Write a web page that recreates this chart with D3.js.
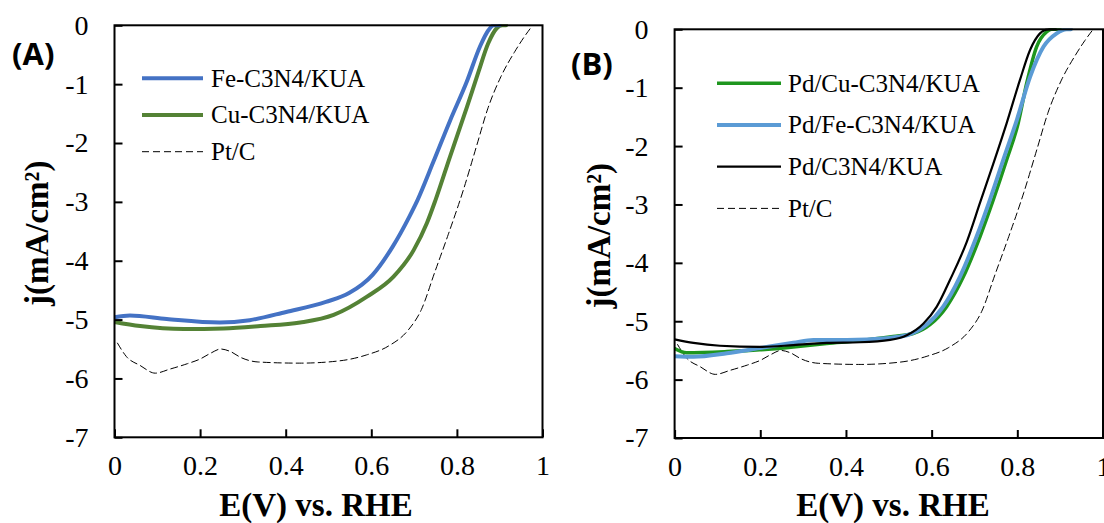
<!DOCTYPE html>
<html>
<head>
<meta charset="utf-8">
<script src="https://cdn.jsdelivr.net/npm/d3@7"></script>
<style>
  body { margin: 0; background: #fff; }
  svg { display: block; }
  .serif { font-family: "Liberation Serif", "Times New Roman", Times, "DejaVu Serif", serif; }
  .panel-label { font-family: "Open Sans", "Liberation Sans", Arial, sans-serif; font-weight: 700; }
</style>
</head>
<body>
<svg id="chart" width="1104" height="523"></svg>
<script>
// ORR polarization curves, j (mA/cm²) against E (V vs. RHE): [E, j] pairs
const xTicks = [0, 0.2, 0.4, 0.6, 0.8, 1];
const xTickLabels = ["0", "0.2", "0.4", "0.6", "0.8", "1"];
const yTicks = [0, -1, -2, -3, -4, -5, -6, -7];
const yTickLabels = ["0", "-1", "-2", "-3", "-4", "-5", "-6", "-7"];

const ptC = [[0.007,-5.40],[0.028,-5.63],[0.06,-5.78],[0.095,-5.91],[0.13,-5.84],[0.17,-5.75],
  [0.20,-5.67],[0.225,-5.57],[0.248,-5.50],[0.27,-5.54],[0.297,-5.65],[0.335,-5.72],[0.433,-5.74],
  [0.527,-5.70],[0.589,-5.60],[0.64,-5.45],[0.686,-5.18],[0.717,-4.83],[0.748,-4.20],[0.78,-3.55],
  [0.815,-2.80],[0.846,-2.05],[0.872,-1.42],[0.903,-0.87],[0.935,-0.45],[0.957,-0.20],[0.975,-0.02]];

const feC3N4 = [[0,-4.96],[0.036,-4.93],[0.122,-4.99],[0.246,-5.05],[0.316,-5.01],[0.401,-4.87],
  [0.494,-4.70],[0.548,-4.55],[0.603,-4.24],[0.65,-3.76],[0.689,-3.25],[0.708,-2.97],[0.745,-2.32],
  [0.784,-1.62],[0.823,-0.96],[0.854,-0.36],[0.874,-0.08],[0.886,0],[0.9,0]];

const cuC3N4 = [[0,-5.04],[0.06,-5.11],[0.162,-5.16],[0.255,-5.15],[0.341,-5.11],[0.434,-5.05],
  [0.512,-4.92],[0.59,-4.61],[0.652,-4.27],[0.699,-3.82],[0.73,-3.36],[0.75,-2.97],[0.784,-2.23],
  [0.823,-1.40],[0.85,-0.80],[0.873,-0.31],[0.893,-0.05],[0.906,0],[0.915,0]];

const pdCuC3N4 = [[0,-5.47],[0.028,-5.54],[0.122,-5.52],[0.199,-5.49],[0.277,-5.44],[0.355,-5.38],
  [0.433,-5.33],[0.51,-5.26],[0.557,-5.21],[0.596,-5.06],[0.635,-4.75],[0.674,-4.24],[0.713,-3.55],
  [0.744,-2.92],[0.775,-2.24],[0.802,-1.61],[0.822,-0.92],[0.845,-0.30],[0.869,-0.04],[0.88,0],[0.9,0]];

const pdFeC3N4 = [[0,-5.60],[0.044,-5.61],[0.122,-5.55],[0.199,-5.46],[0.277,-5.37],[0.324,-5.32],
  [0.402,-5.32],[0.495,-5.29],[0.542,-5.24],[0.588,-5.06],[0.627,-4.75],[0.666,-4.24],[0.705,-3.55],
  [0.736,-2.92],[0.767,-2.24],[0.799,-1.55],[0.83,-0.81],[0.861,-0.30],[0.892,-0.07],[0.915,0],[0.925,0]];

const pdC3N4 = [[0,-5.31],[0.044,-5.37],[0.106,-5.42],[0.199,-5.44],[0.277,-5.41],[0.355,-5.37],
  [0.433,-5.36],[0.503,-5.32],[0.542,-5.24],[0.581,-5.04],[0.612,-4.75],[0.643,-4.29],[0.682,-3.64],
  [0.713,-2.97],[0.744,-2.30],[0.775,-1.61],[0.806,-0.87],[0.83,-0.35],[0.853,-0.07],[0.872,0],[0.89,0]];

const panelA = {
  label: "(A)", left: 114.5, right: 542.5, top: 25.3, bottom: 437.3,
  labelPos: [12, 65], yTitleX: 48, xTitleX: 316,
  legend: { lineX: [142, 203], textX: 211, y0: 78.3, dy: 36.7 },
  series: [
    { name: "Fe-C3N4/KUA", data: feC3N4, color: "#4472C4", width: 4, draw: 2 },
    { name: "Cu-C3N4/KUA", data: cuC3N4, color: "#548235", width: 4, draw: 1 },
    { name: "Pt/C", data: ptC, color: "#000", width: 1, dash: "7,4", draw: 0 }
  ]
};

const panelB = {
  label: "(B)", left: 674.6, right: 1103, top: 29.3, bottom: 438,
  labelPos: [571, 75], yTitleX: 610, xTitleX: 893,
  legend: { lineX: [717, 781], textX: 788, y0: 83.3, dy: 41.7 },
  series: [
    { name: "Pd/Cu-C3N4/KUA", data: pdCuC3N4, color: "#1E961E", width: 3.5, draw: 1 },
    { name: "Pd/Fe-C3N4/KUA", data: pdFeC3N4, color: "#5B9BD5", width: 4, draw: 2 },
    { name: "Pd/C3N4/KUA", data: pdC3N4, color: "#000", width: 2.2, draw: 3 },
    { name: "Pt/C", data: ptC, color: "#000", width: 1, dash: "7,4", draw: 0 }
  ]
};

const svg = d3.select("#chart");
const TICK_FONT = 28, LEGEND_FONT = 25, TITLE_FONT = 33;

function drawPanel(p) {
  const x = d3.scaleLinear().domain([0, 1]).range([p.left, p.right]);
  const y = d3.scaleLinear().domain([-7, 0]).range([p.bottom, p.top]);
  const g = svg.append("g");

  // curves, drawn back to front
  const line = d3.line().x(d => x(d[0])).y(d => y(d[1])).curve(d3.curveMonotoneX);
  const clipId = "clip" + p.label.replace(/\W/g, "");
  g.append("clipPath").attr("id", clipId).append("rect")
    .attr("x", p.left).attr("y", p.top - 1).attr("width", p.right - p.left).attr("height", p.bottom - p.top + 1);
  const curves = g.append("g").attr("clip-path", `url(#${clipId})`);
  p.series.slice().sort((a, b) => a.draw - b.draw).forEach(s => {
    curves.append("path").datum(s.data)
      .attr("d", line).attr("fill", "none")
      .attr("stroke", s.color).attr("stroke-width", s.width)
      .attr("stroke-dasharray", s.dash || null)
      .attr("stroke-linejoin", "round").attr("stroke-linecap", "round");
  });

  // axes with inward ticks
  const yAxis = d3.axisLeft(y).tickValues(yTicks)
    .tickFormat((d, i) => yTickLabels[i]).tickSizeInner(-8).tickSizeOuter(0).tickPadding(26);
  const xAxis = d3.axisBottom(x).tickValues(xTicks)
    .tickFormat((d, i) => xTickLabels[i]).tickSizeInner(-8).tickSizeOuter(0).tickPadding(18);

  const ya = g.append("g").attr("transform", `translate(${p.left},0)`).call(yAxis)
    .attr("font-family", null).attr("font-size", null);
  const xa = g.append("g").attr("transform", `translate(0,${p.bottom})`).call(xAxis)
    .attr("font-family", null).attr("font-size", null);
  [ya, xa].forEach(a => {
    a.select(".domain").remove();
    a.selectAll(".tick line").attr("stroke", "#000").attr("stroke-width", 2);
    a.selectAll(".tick text").attr("class", "serif").style("font-size", TICK_FONT + "px").attr("fill", "#000");
  });

  // frame
  g.append("rect").attr("x", p.left).attr("y", p.top)
    .attr("width", p.right - p.left).attr("height", p.bottom - p.top)
    .attr("fill", "none").attr("stroke", "#000").attr("stroke-width", 2);

  // legend
  const L = p.legend;
  p.series.forEach((s, i) => {
    const ly = L.y0 + i * L.dy;
    g.append("line").attr("x1", L.lineX[0]).attr("x2", L.lineX[1]).attr("y1", ly).attr("y2", ly)
      .attr("stroke", s.color).attr("stroke-width", s.width)
      .attr("stroke-dasharray", s.dash || null);
    g.append("text").attr("class", "serif")
      .attr("x", L.textX).attr("y", ly + 0.33 * LEGEND_FONT)
      .style("font-size", LEGEND_FONT + "px").attr("fill", "#000").text(s.name);
  });

  // titles
  g.append("text").attr("class", "serif").attr("x", p.xTitleX).attr("y", 516)
    .attr("text-anchor", "middle").style("font-size", TITLE_FONT + "px").style("font-weight", "bold")
    .text("E(V) vs. RHE");
  g.append("text").attr("class", "serif")
    .attr("transform", `translate(${p.yTitleX},${(p.top + p.bottom) / 2 + 2}) rotate(-90)`)
    .attr("text-anchor", "middle").style("font-size", TITLE_FONT + "px").style("font-weight", "bold")
    .text("j(mA/cm²)");
  g.append("text").attr("class", "panel-label").attr("x", p.labelPos[0]).attr("y", p.labelPos[1])
    .style("font-size", "31px").text(p.label);
}

drawPanel(panelA);
drawPanel(panelB);
</script>
</body>
</html>
